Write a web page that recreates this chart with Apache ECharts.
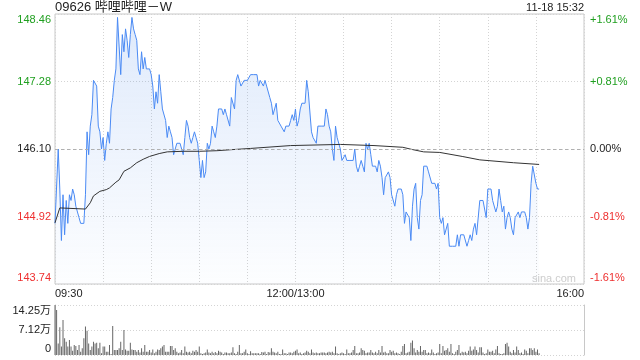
<!DOCTYPE html>
<html><head><meta charset="utf-8">
<script src="https://cdn.jsdelivr.net/npm/echarts@6/dist/echarts.min.js"></script>
<style>html,body{margin:0;padding:0;background:#fff}#c{width:640px;height:360px}</style>
</head><body><div id="c"></div>
<script>
const titleText = '09626 哔哩哔哩－W';
const timeText = '11-18 15:32';
const watermark = 'sina.com';
const priceTicks = ['143.74','144.92','146.10','147.28','148.46'];
const pctTicks = ['-1.61%','-0.81%','0.00%','+0.81%','+1.61%'];
const timeTickMinutes = [0,150,330];
const timeTickLabels = ['09:30','12:00/13:00','16:00'];
const volTicks = ['0','7.12万','14.25万'];
const volMax = 14.25;
const sessionMinutes = 330;

// minute-by-minute last price (09:30 -> 15:32)
const prices = [
144.8,144.8,146.1,145.4,144.5,145.3,144.6,145.2,144.8,145.3,
145.2,145.4,145.3,145.1,145.1,144.9,144.8,144.8,144.8,145.3,146.4,
146.0,146.5,146.7,147.3,147.3,147.2,146.5,146.4,146.1,146.3,
145.9,146.2,146.4,146.2,146.8,147.0,147.3,147.5,148.4,147.9,
147.4,148.1,147.8,148.2,148.0,147.7,148.1,148.4,148.2,148.1,
148.0,147.5,147.4,147.8,147.5,147.7,147.5,147.5,147.5,147.4,147.2,
146.8,147.1,146.9,147.4,147.1,146.8,146.8,146.6,146.3,146.5,
146.4,146.3,146.0,146.0,146.2,146.2,146.2,146.1,146.0,146.3,146.6,
146.5,146.3,146.2,146.3,146.4,146.3,146.2,145.9,145.6,145.9,
145.6,145.7,146.2,146.1,146.2,146.5,146.4,146.3,146.5,146.8,
146.8,146.8,146.7,146.8,146.7,146.7,146.5,147.0,147.0,146.8,
147.3,147.4,147.4,147.2,147.2,147.3,147.3,147.3,147.3,
147.4,147.4,147.4,147.4,147.4,147.2,147.3,147.3,147.2,147.3,147.2,
147.2,147.0,146.9,146.7,146.8,146.9,146.6,146.6,146.5,146.5,
146.4,146.5,146.5,146.5,146.6,146.7,146.6,146.8,146.5,146.6,
146.8,146.9,146.9,146.9,147.3,147.1,147.1,146.4,146.3,146.3,
146.2,146.5,146.5,146.5,146.5,146.5,146.8,146.7,146.5,146.4,146.1,
145.9,146.5,146.3,146.3,146.1,145.9,145.9,146.0,145.9,145.9,
145.9,145.9,145.9,146.1,145.8,145.7,145.8,145.9,145.8,145.7,146.2,
146.1,146.2,146.0,145.8,145.8,145.8,145.7,145.9,145.8,145.6,
145.3,145.6,145.6,145.7,145.6,145.3,145.3,145.1,145.3,145.4,
145.4,145.4,145.3,144.8,145.0,145.0,144.9,144.5,145.1,145.4,
145.5,144.9,144.7,145.2,145.3,145.8,145.8,145.8,145.7,145.7,
145.5,145.5,145.5,145.4,145.5,
144.9,144.8,144.9,144.6,144.6,144.8,144.4,144.4,144.4,144.4,144.4,
144.6,144.4,144.6,144.6,144.6,144.6,144.4,144.5,144.6,144.5,144.7,
144.8,144.6,144.6,145.2,145.2,145.2,145.2,144.9,145.4,145.4,145.4,
145.2,145.2,145.0,145.1,145.4,145.2,145.0,145.1,144.7,144.9,
145.0,144.9,144.7,144.6,144.9,144.9,145.0,144.9,145.0,145.0,145.0,
144.9,144.7,144.9,145.5,145.8,145.8,145.5,145.4,145.4
];

// average price line, read at sample minutes
const avgMinutes = [0,1,3,19,22,24,28,32,34,38,40,43,47,51,55,59,65,70,80,90,101,111,122,147,178,199,217,223,230,240,254,265,286,302];
const avgPrices  = [144.81,144.78,145.07,145.05,145.16,145.28,145.36,145.39,145.42,145.52,145.56,145.71,145.77,145.86,145.92,145.97,146.02,146.05,146.06,146.06,146.07,146.09,146.11,146.16,146.18,146.16,146.13,146.09,146.05,146.04,145.97,145.91,145.86,145.83];

// minute volume (万股)
const volumes = [
14.25,12.8,3.3,7.9,2.4,10.0,4.75,3.8,2.4,4.3,
2.4,1.2,2.85,2.6,1.4,2.85,0.95,1.9,4.75,8.1,6.9,
3.3,1.4,2.4,3.8,3.3,3.5,1.9,3.5,0.5,2.4,
2.4,0.95,0.95,2.85,0.3,8.3,1.4,1.4,1.4,1.9,
3.8,1.4,7.1,1.6,1.2,1.2,3.5,1.6,1.4,1.4,
0.95,1.4,0.7,1.9,0.95,2.85,0.95,0.95,1.4,0.7,
1.6,0.5,0.95,1.6,1.4,1.9,2.4,2.85,0.95,0.95,0.95,
2.6,2.6,1.4,1.9,0.95,0.5,0.7,1.4,0.5,2.4,0.95,
0.7,0.95,0.5,1.2,0.95,1.4,0.95,2.4,0.5,0.3,
0.5,0.7,1.6,0.7,0.5,0.95,0.5,0.85,
0.5,1.2,0.95,0.7,0.3,0.7,0.7,0.5,0.5,0.7,
2.2,0.5,0.3,0.95,2.85,0.5,0.5,0.95,1.6,0.5,
0.3,1.1,0.5,0.5,0.5,0.5,0.5,0.3,0.85,0.7,0.95,
0.3,0.85,0.7,1.9,0.95,0.7,0.5,0.95,0.3,0.3,
1.6,0.5,0.5,0.3,0.7,0.7,0.5,0.95,1.2,1.6,0.5,
0.7,0.3,0.5,0.7,1.2,0.95,0.5,1.6,0.7,0.5,
0.7,0.5,0.5,0.7,0.7,0.7,0.5,0.7,0.95,0.7,0.95,
0.5,2.4,0.5,0.3,0.5,0.7,0.5,0.3,1.6,0.5,
0.5,0.7,1.4,2.6,0.5,0.5,0.7,1.9,1.4,1.2,0.5,
0.7,0.7,1.4,0.7,0.5,0.95,0.5,1.4,
0.7,2.6,0.7,0.95,0.5,0.5,1.4,0.95,1.2,
0.5,0.7,0.5,0.3,0.95,2.6,3.1,0.5,0.7,0.95,
3.5,4.1,1.9,0.7,1.4,0.95,2.6,0.95,1.4,1.4,0.5,
0.7,0.5,1.6,0.7,0.3,0.5,0.7,3.1,0.5,2.6,
1.2,1.4,1.9,0.95,3.1,0.5,0.3,0.95,1.4,2.85,0.5,
0.95,0.7,0.95,0.5,1.2,2.4,1.2,1.6,2.4,1.4,
0.7,2.2,2.2,0.7,0.3,0.5,1.6,0.95,0.95,1.2,0.5,
1.6,2.6,0.5,0.3,0.3,0.5,3.1,3.5,2.4,0.95,
0.5,1.4,0.7,2.4,1.4,0.5,0.7,0.3,1.6,1.2,0.5,
1.9,1.9,1.4,1.9,0.95,1.6,0.5
];

const FONT = 'Arial, "Liberation Sans", Helvetica, "Noto Sans CJK SC", sans-serif';
const GREEN = '#1f9f1f', RED = '#ee2f2f', DARK = '#222';
const priceMin = parseFloat(priceTicks[0]);
const priceMax = parseFloat(priceTicks[priceTicks.length - 1]);
const prevClose = parseFloat(priceTicks[2]);

function tickStyle(i, n) {
  const c = i < (n - 1) / 2 ? 'd' : (i > (n - 1) / 2 ? 'u' : 'm');
  const edge = i === 0 ? 'B' : (i === n - 1 ? 'T' : '');
  return c + edge;
}
const rich = {
  u: {color: GREEN, fontSize: 11, fontFamily: FONT},
  uT: {color: GREEN, fontSize: 11, fontFamily: FONT, padding: [12, 0, 0, 0]},
  d: {color: RED, fontSize: 11, fontFamily: FONT},
  dB: {color: RED, fontSize: 11, fontFamily: FONT, padding: [0, 0, 12, 0]},
  m: {color: DARK, fontSize: 11, fontFamily: FONT},
  vT: {color: DARK, fontSize: 11, fontFamily: FONT, padding: [12, 0, 0, 0]},
  vM: {color: DARK, fontSize: 11, fontFamily: FONT},
  vB: {color: DARK, fontSize: 11, fontFamily: FONT, padding: [0, 0, 12, 0]}
};
const dotted = {color: '#d4d4d4', type: [1, 2], width: 1};

const chart = echarts.init(document.getElementById('c'), null, {renderer: 'canvas'});
chart.setOption({
  animation: false,
  textStyle: {fontFamily: FONT},
  title: [
    {text: titleText, left: 55, top: 1, padding: 0,
     textStyle: {fontSize: 13, fontWeight: 'normal', color: DARK, fontFamily: FONT}},
    {text: timeText, right: 56, top: 2, padding: 0,
     textStyle: {fontSize: 11, fontWeight: 'normal', color: DARK, fontFamily: FONT}}
  ],
  graphic: [{type: 'text', left: 532, top: 273, silent: true,
    style: {text: watermark, fill: '#cdcdcd', font: '11px ' + FONT}}],
  grid: [
    {left: 55, top: 14, width: 529, height: 270, show: true, borderColor: '#c8c8c8', borderWidth: 1},
    {left: 55, top: 305, width: 529, height: 50, show: false}
  ],
  xAxis: [
    {type: 'value', gridIndex: 0, min: 0, max: sessionMinutes, interval: 30,
     axisLine: {show: false}, axisTick: {show: false},
     splitLine: {show: true, lineStyle: dotted},
     axisLabel: {margin: 4, fontSize: 11, color: DARK, fontFamily: FONT,
       alignMinLabel: 'left', alignMaxLabel: 'right', showMinLabel: true, showMaxLabel: true,
       formatter: v => { const k = timeTickMinutes.indexOf(Math.round(v)); return k >= 0 ? timeTickLabels[k] : ''; }}},
    {type: 'value', gridIndex: 1, min: 0, max: sessionMinutes, interval: 30,
     axisLine: {show: false}, axisTick: {show: false}, splitLine: {show: false}, axisLabel: {show: false}}
  ],
  yAxis: [
    {type: 'value', gridIndex: 0, min: priceMin, max: priceMax, show: false},
    {type: 'value', gridIndex: 0, position: 'left', min: 0, max: priceTicks.length - 1, interval: 1,
     axisLine: {show: false}, axisTick: {show: false},
     splitLine: {show: true, lineStyle: dotted},
     axisLabel: {margin: 4, rich: rich,
       formatter: v => { const i = Math.round(v); return '{' + tickStyle(i, priceTicks.length) + '|' + priceTicks[i] + '}'; }}},
    {type: 'value', gridIndex: 0, position: 'right', min: 0, max: pctTicks.length - 1, interval: 1,
     axisLine: {show: false}, axisTick: {show: false}, splitLine: {show: false},
     axisLabel: {margin: 6, rich: rich,
       formatter: v => { const i = Math.round(v); return '{' + tickStyle(i, pctTicks.length) + '|' + pctTicks[i] + '}'; }}},
    {type: 'value', gridIndex: 1, position: 'left', min: 0, max: volMax, interval: volMax / 2,
     axisLine: {show: true, lineStyle: {color: '#c8c8c8'}}, axisTick: {show: false},
     splitLine: {show: true, lineStyle: dotted},
     axisLabel: {margin: 4, rich: rich,
       formatter: (v, i) => { const k = Math.round(v / (volMax / 2)); const s = k === 0 ? 'vB' : (k === volTicks.length - 1 ? 'vT' : 'vM'); return '{' + s + '|' + volTicks[k] + '}'; }}},
    {type: 'value', gridIndex: 1, position: 'right', min: 0, max: volMax,
     axisLine: {show: true, lineStyle: {color: '#c8c8c8'}}, axisTick: {show: false},
     splitLine: {show: false}, axisLabel: {show: false}}
  ],
  series: [
    {type: 'line', xAxisIndex: 0, yAxisIndex: 0, showSymbol: false, symbol: 'none',
     data: prices.map((p, i) => [i, p]),
     lineStyle: {color: '#4a8af4', width: 1},
     areaStyle: {origin: 'start', color: new echarts.graphic.LinearGradient(0, 0, 0, 1, [
       {offset: 0, color: 'rgba(80,140,235,0.26)'}, {offset: 1, color: 'rgba(80,140,235,0.02)'}])},
     markLine: {silent: true, symbol: 'none', label: {show: false},
       lineStyle: {color: '#b0b0b0', type: [3, 3], width: 1},
       data: [{yAxis: prevClose}]},
     z: 3},
    {type: 'line', xAxisIndex: 0, yAxisIndex: 0, showSymbol: false, symbol: 'none',
     data: avgMinutes.map((m, i) => [m, avgPrices[i]]),
     lineStyle: {color: '#333', width: 1}, z: 4},
    {type: 'bar', xAxisIndex: 1, yAxisIndex: 3, barWidth: 1,
     data: volumes.map((v, i) => [i, v]),
     itemStyle: {color: '#666'}}
  ]
});
</script></body></html>
